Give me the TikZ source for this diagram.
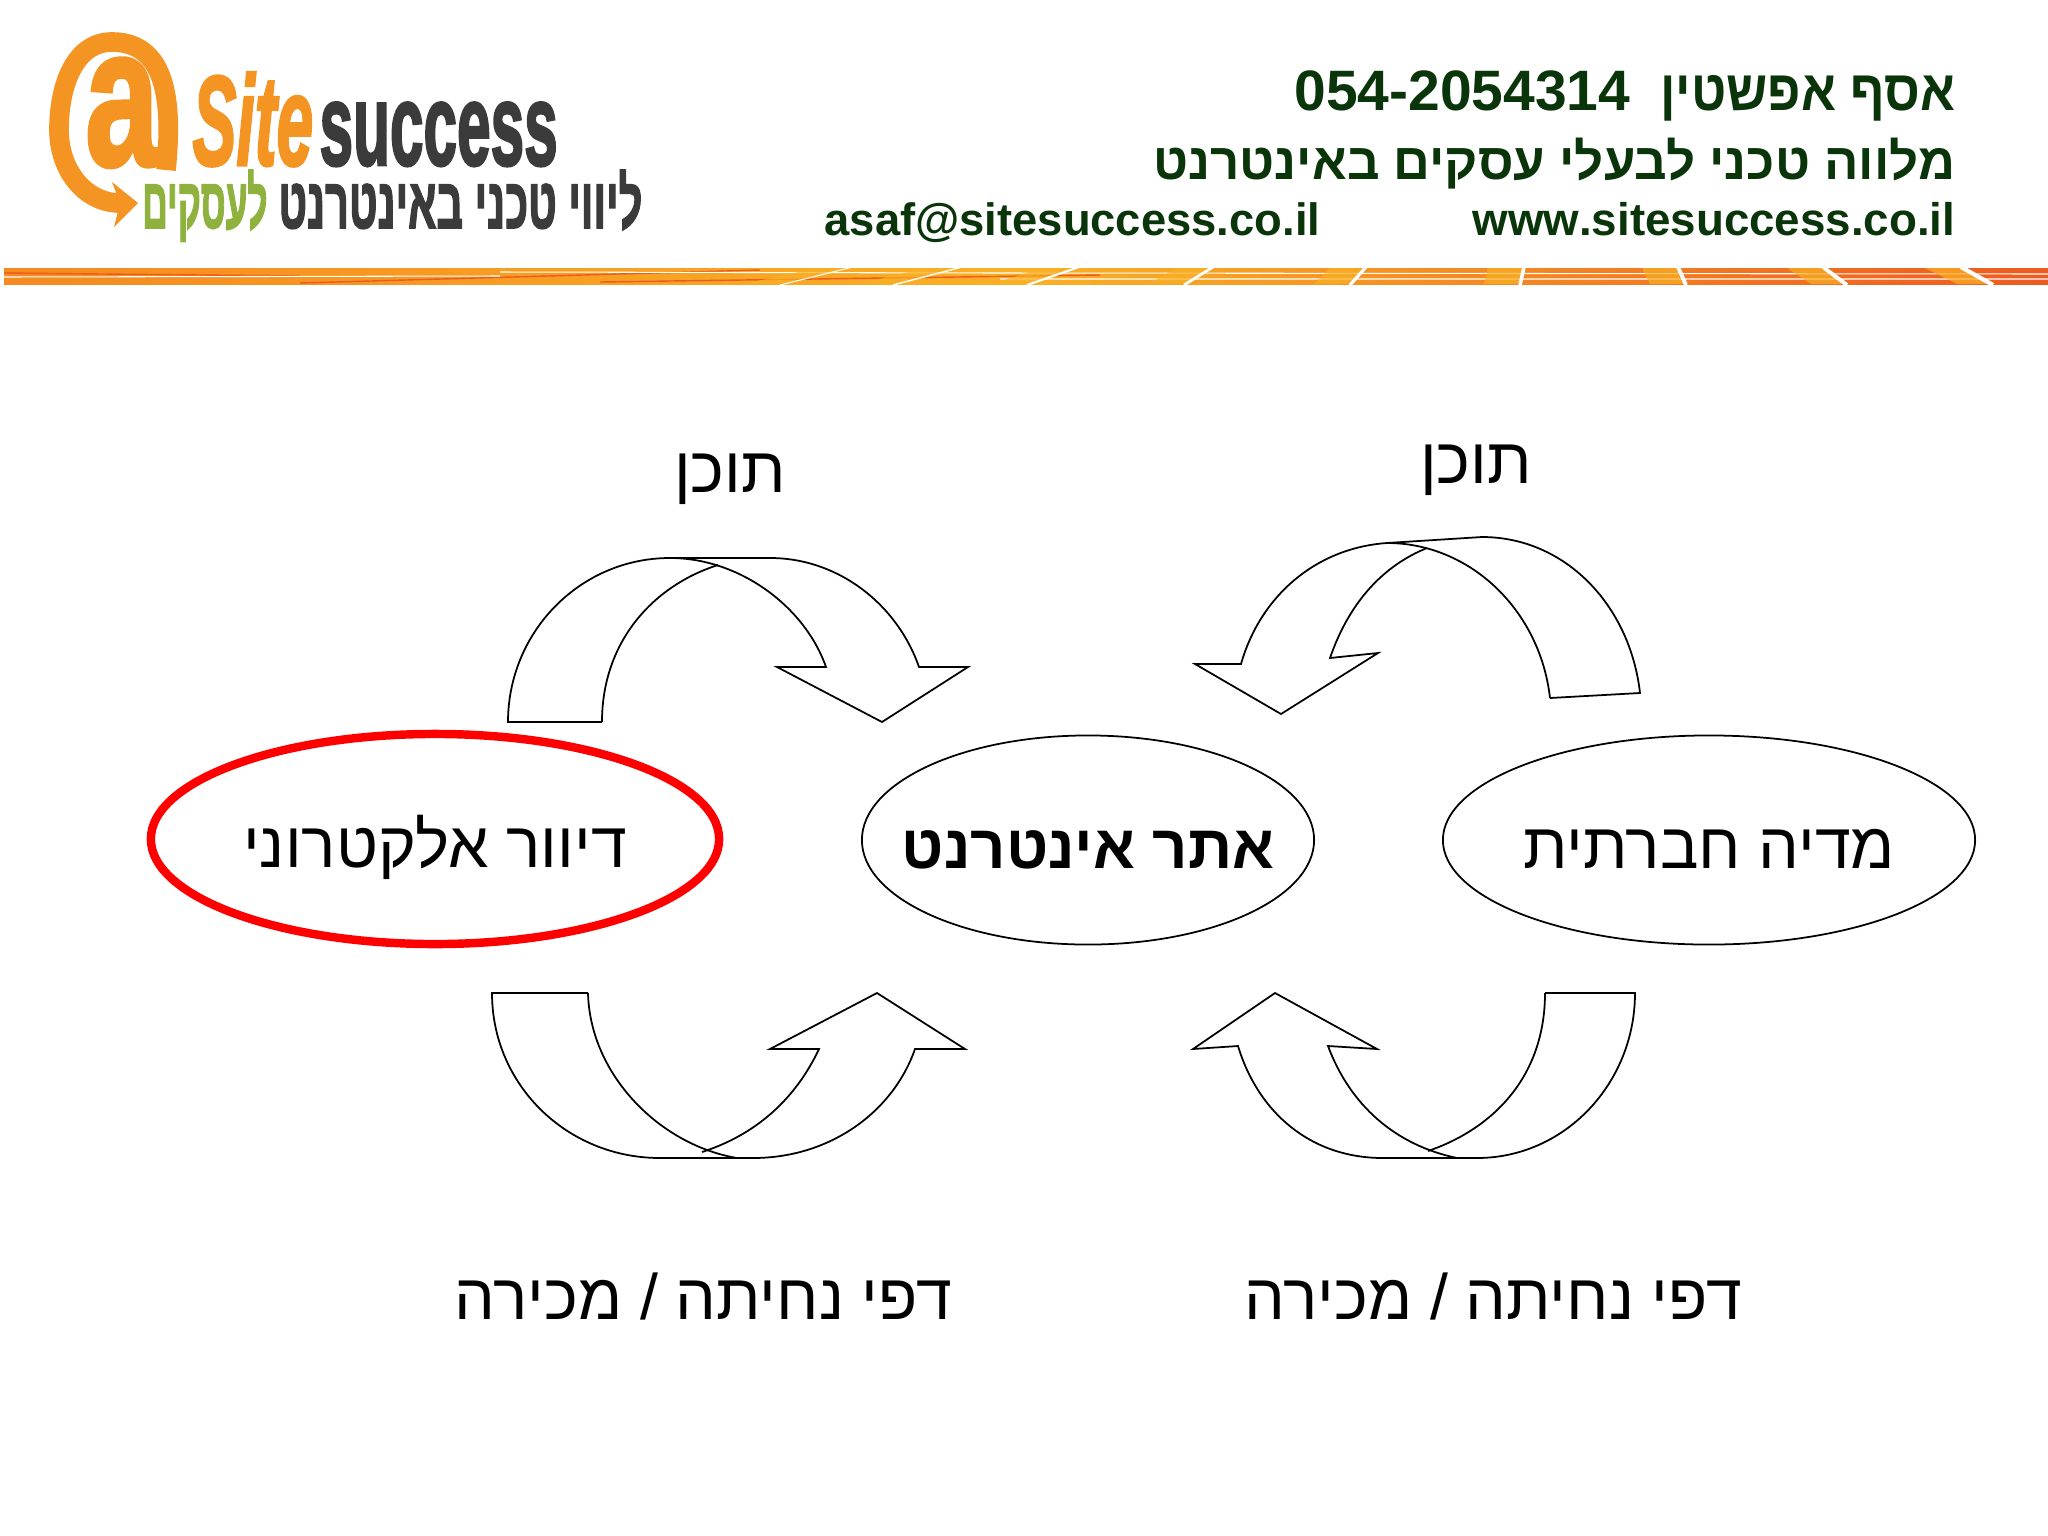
\documentclass[tikz,border=0pt]{standalone}
\usepackage{fontspec}
\usetikzlibrary{shapes.geometric}
\TeXXeTstate=1
\newfontfamily\hebfont[Script=Hebrew]{Liberation Sans}
\newfontfamily\logofont[Script=Hebrew,BoldFeatures={FakeBold=2.5},BoldItalicFeatures={FakeBold=2.5}]{Liberation Sans}
\definecolor{headgreen}{HTML}{0A350A}
\definecolor{logoorange}{HTML}{F39423}
\definecolor{logodark}{HTML}{3B3B3B}
\definecolor{logogreen}{HTML}{8FB23E}
\definecolor{bandleft}{HTML}{F58A20}
\definecolor{bandmid}{HTML}{F9B024}
\definecolor{bandright}{HTML}{EE5A20}

\begin{document}
\begin{tikzpicture}[
  x=.01cm,y=-.01cm,
  flowarrow/.style={draw=black,line width=.5pt,line join=miter},
  topic/.style={ellipse,draw=black,line width=.5pt,inner xsep=-10pt,inner ysep=0pt,text height=17pt,text depth=.6pt,font=\hebfont\fontsize{18.3}{22}\selectfont},
  caption/.style={anchor=base,inner sep=0pt,font=\hebfont\fontsize{18.3}{22}\selectfont},
  headline/.style={anchor=base east,inner sep=0pt,text=headgreen},
  ]
  \useasboundingbox (0,0) rectangle (2048,1536);

  % logo
  \draw[logoorange,line width=5.6pt] (166,170) .. controls (172,110) and (170,42) .. (112,42)
    .. controls (75,42) and (59,85) .. (59,130) .. controls (59,170) and (85,203) .. (120,203);
  \fill[logoorange] (112,182) -- (138,203) -- (114,227) -- (120,203) -- cycle;
  \node[inner sep=0pt,anchor=base,text=logoorange,font=\logofont\bfseries\fontsize{52}{52}\selectfont,xscale=.72,yscale=1.08,transform shape] (LogoA) at (122,165) {a};
  \node[inner sep=0pt,anchor=base west,text=logoorange,font=\logofont\bfseries\itshape\fontsize{22}{22}\selectfont,xscale=.85,yscale=1.65,transform shape] (LogoSite) at (192,165) {Site};
  \node[inner sep=0pt,anchor=base west,text=logodark,font=\logofont\bfseries\fontsize{22}{22}\selectfont,xscale=.78,yscale=1.5,transform shape] (LogoSuccess) at (319,165) {success};
  \node[inner sep=0pt,anchor=base east,text=logodark,font=\logofont\bfseries\fontsize{14}{14}\selectfont,xscale=.845,yscale=1.45,transform shape] (LogoTag) at (643,228) {\beginR ליווי טכני באינטרנט\endR};
  \node[inner sep=0pt,anchor=base east,text=logogreen,font=\logofont\bfseries\fontsize{14}{14}\selectfont,xscale=.72,yscale=1.45,transform shape] (LogoBiz) at (268,228) {\beginR לעסקים\endR};

  % head text
  \node[headline,font=\hebfont\bfseries\fontsize{16.2}{18}\selectfont,xscale=.9,transform shape] (Name) at (1956,110) {\beginR אסף אפשטין\endR};
  \node[headline,font=\hebfont\bfseries\fontsize{16.2}{18}\selectfont] (Phone) at (1631,110) {054-2054314};
  \node[headline,font=\hebfont\bfseries\fontsize{14.5}{18}\selectfont] (Role) at (1956,179) {\beginR מלווה טכני לבעלי עסקים באינטרנט\endR};
  \node[headline,font=\hebfont\bfseries\fontsize{13}{16}\selectfont] (Web) at (1956,235) {www.sitesuccess.co.il};
  \node[headline,font=\hebfont\bfseries\fontsize{12.9}{16}\selectfont] (Email) at (1321,235) {asaf@sitesuccess.co.il};

  % band
  \shade[left color=bandleft,right color=bandright,middle color=bandmid] (4,268) rectangle (2048,284);
  \draw[bandright,line width=.4pt] (4,273) -- (300,276) (300,283) -- (760,270) (600,282) -- (1100,275);
  \draw[white,line width=.3pt] (4,277) -- (500,276) (500,272) -- (1000,273) (1000,273) -- (2048,274) (1000,279) -- (2048,279);
  \foreach \a/\b/\w in {853/780/.3,962/893/.4,1079/1027/.6,1213/1184/.8,1366/1350/.9,1524/1520/1,1678/1686/1.1,1823/1847/1.1,1961/1993/1.2}
  {
    \fill[bandmid,opacity=.7] (\a-36,268) -- (\a,268) -- (\b,284) -- (\b-36,284) -- cycle;
    \draw[white,line width=\w pt] (\a,267) -- (\b,285);
  }

  % topics
  \node[topic,draw=red,line width=2.4pt,minimum width=568*.2845pt,minimum height=210*.2845pt] (Mail) at (435,839) {\beginR דיוור אלקטרוני\endR};
  \node[topic,minimum width=452*.2845pt,minimum height=209*.2845pt,font=\hebfont\bfseries\fontsize{17.5}{22}\selectfont] (Site) at (1088,840) {\beginR אתר אינטרנט\endR};
  \node[topic,minimum width=532*.2845pt,minimum height=209*.2845pt] (Social) at (1709,840) {\beginR מדיה חברתית\endR};

  \node[caption] (ContentL) at (730,492) {\beginR תוכן\endR};
  \node[caption] (ContentR) at (1476,483) {\beginR תוכן\endR};
  \node[caption] (LandingL) at (703,1319) {\beginR דפי נחיתה / מכירה\endR};
  \node[caption] (LandingR) at (1493,1319) {\beginR דפי נחיתה / מכירה\endR};

  % top left
  \draw[flowarrow] (602,722) -- (508,722) .. controls (508,632) and (580,558) .. (670,558) -- (770,558)
    .. controls (838,558) and (897,604) .. (919,667) -- (968,667) -- (882,722) -- (777,667) -- (826,667)
    .. controls (805,607) and (740,558) .. (670,558);
  \draw[flowarrow] (602,722) .. controls (602,640) and (655,585) .. (718,565);
  % top right
  \draw[flowarrow] (1550,698) -- (1640,693) .. controls (1630,605) and (1565,537) .. (1482,537) -- (1387,543)
    .. controls (1315,548) and (1260,597) .. (1241,664) -- (1195,664) -- (1281,714) -- (1378,653) -- (1330,658)
    .. controls (1350,600) and (1385,565) .. (1427,548);
  \draw[flowarrow] (1550,698) .. controls (1540,610) and (1470,543) .. (1387,543);
  % bottom left
  \draw[flowarrow] (588,993) -- (492,993) .. controls (492,1085) and (567,1158) .. (660,1158) -- (753,1158)
    .. controls (830,1158) and (893,1112) .. (915,1049) -- (965,1049) -- (877,993) -- (770,1049) -- (819,1049)
    .. controls (795,1100) and (755,1135) .. (702,1152);
  \draw[flowarrow] (588,993) .. controls (590,1075) and (660,1145) .. (737,1158);
  % bottom right
  \draw[flowarrow] (1545,993) -- (1635,993) .. controls (1635,1083) and (1565,1158) .. (1477,1158) -- (1383,1158)
    .. controls (1310,1158) and (1258,1112) .. (1238,1046) -- (1193,1049) -- (1275,993) -- (1377,1049) -- (1328,1046)
    .. controls (1350,1105) and (1395,1145) .. (1457,1158);
  \draw[flowarrow] (1545,993) .. controls (1545,1075) and (1495,1128) .. (1428,1151);
\end{tikzpicture}
\end{document}
